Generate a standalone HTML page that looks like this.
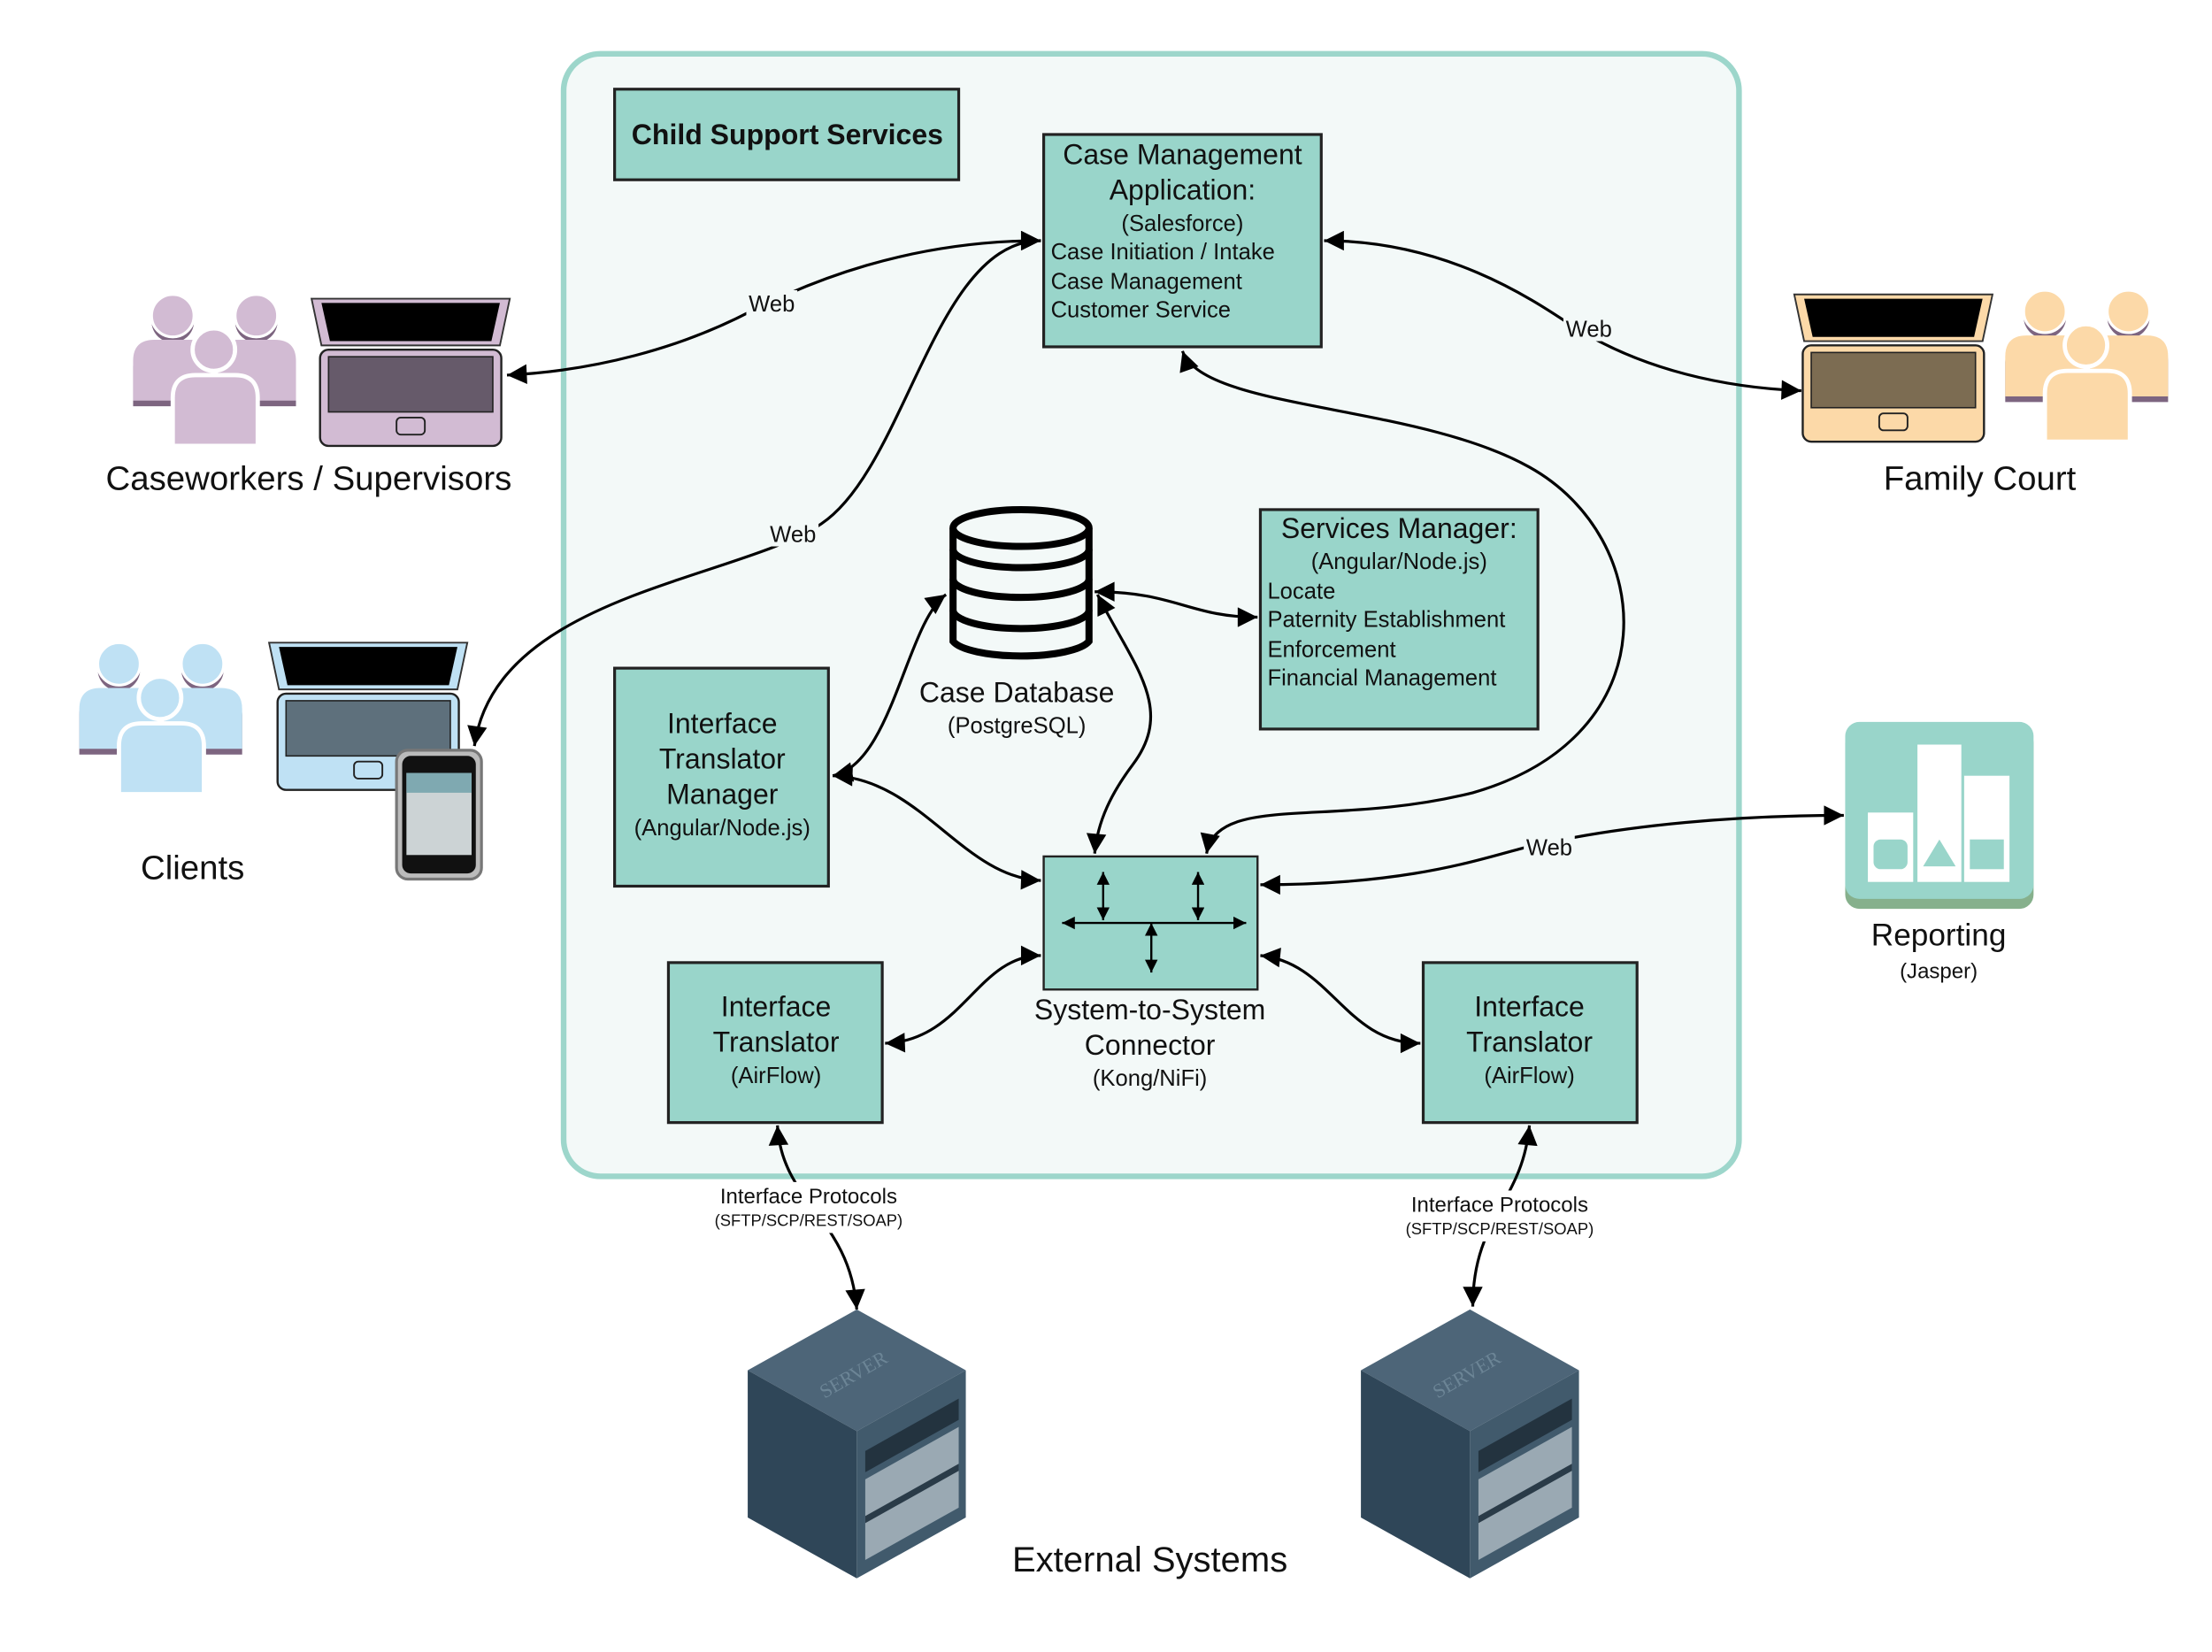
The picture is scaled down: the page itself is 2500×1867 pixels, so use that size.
<!DOCTYPE html>
<html><head><meta charset="utf-8"><style>html,body{margin:0;padding:0;background:#fff}svg{display:block}text{font-family:"Liberation Sans",sans-serif;fill:#111}</style></head>
<body>
<svg width="2500" height="1867" viewBox="0 0 1562 1167" preserveAspectRatio="none" xmlns="http://www.w3.org/2000/svg">
<defs>
<marker id="a" viewBox="0 0 10 10" refX="10" refY="5" markerWidth="9" markerHeight="9" markerUnits="userSpaceOnUse" orient="auto-start-reverse"><path d="M0,0 L10,5 L0,10 Z" fill="#000"/></marker>
<marker id="b" viewBox="0 0 10 10" refX="10" refY="5" markerWidth="16" markerHeight="14" markerUnits="userSpaceOnUse" orient="auto-start-reverse"><path d="M0,0 L10,5 L0,10 Z" fill="#000"/></marker>
<g id="ppl">
 <g transform="translate(0,4)" class="sh">
  <circle cx="28" cy="16" r="15"/><circle cx="87" cy="16" r="15"/>
  <path d="M0,48 Q0,33 15,33 L42,33 Q55,33 55,48 L55,76 L0,76 Z"/>
  <path d="M60,48 Q60,33 73,33 L100,33 Q115,33 115,48 L115,76 L60,76 Z"/>
 </g>
 <circle cx="28" cy="16" r="15" stroke="#fff" stroke-width="2"/><circle cx="87" cy="16" r="15" stroke="#fff" stroke-width="2"/>
 <path d="M0,48 Q0,33 15,33 L42,33 Q55,33 55,48 L55,76 L0,76 Z"/>
 <path d="M60,48 Q60,33 73,33 L100,33 Q115,33 115,48 L115,76 L60,76 Z"/>
 <circle cx="57" cy="40" r="15" stroke="#fff" stroke-width="3"/>
 <path d="M28,74 Q28,58 44,58 L72,58 Q88,58 88,74 L88,108 L28,108 Z" stroke="#fff" stroke-width="3"/>
</g>
<g id="lap">
 <path d="M0,0 L140,0 L133,33 L7,33 Z" stroke="#333" stroke-width="1.2"/>
 <path d="M7,3 L133,3 L127,30 L13,30 Z" fill="#000"/>
 <rect x="6" y="36" width="128" height="68" rx="6" stroke="#222" stroke-width="1.5"/>
 <rect x="12" y="41" width="116" height="39" fill="var(--s)" stroke="#222" stroke-width="1"/>
 <rect x="60" y="84" width="20" height="12" rx="3" stroke="#222" stroke-width="1.2"/>
</g>
<g id="srv">
 <path d="M0,0 L77,43 L0,86 L-77,43 Z" fill="#4d6578"/>
 <path d="M-77,43 L0,86 L0,190 L-77,147 Z" fill="#2f4658"/>
 <path d="M0,86 L77,43 L77,147 L0,190 Z" fill="#415a6c"/>
 <path d="M6,100 L72,63 L72,78 L6,115 Z" fill="#23333f"/>
 <path d="M6,120 L72,83 L72,140 L6,177 Z" fill="#9aa9b3"/>
 <path d="M6,146 L72,109 L72,114 L6,151 Z" fill="#2a3b48"/>
 <text x="0" y="50" transform="rotate(-30 0 50)" font-size="14" text-anchor="middle" style="fill:#6c8596;font-family:'Liberation Serif',serif">SERVER</text>
</g>
</defs>

<rect x="398" y="38" width="830" height="793" rx="26" fill="#f3f9f8" stroke="#9dd6cb" stroke-width="4"/>

<rect x="434" y="63" width="243" height="64" fill="#99d5ca" stroke="#222" stroke-width="2"/>
<text x="556" y="102" font-size="20" font-weight="bold" text-anchor="middle">Child Support Services</text>

<rect x="737" y="95" width="196" height="150" fill="#99d5ca" stroke="#222" stroke-width="2"/>
<g font-size="20" text-anchor="middle"><text x="835" y="116">Case Management</text><text x="835" y="141">Application:</text></g>
<text x="835" y="163" font-size="16" text-anchor="middle">(Salesforce)</text>
<g font-size="16"><text x="742" y="183">Case Initiation / Intake</text><text x="742" y="204">Case Management</text><text x="742" y="224">Customer Service</text></g>

<rect x="890" y="360" width="196" height="155" fill="#99d5ca" stroke="#222" stroke-width="2"/>
<text x="988" y="380" font-size="20" text-anchor="middle">Services Manager:</text>
<text x="988" y="402" font-size="16" text-anchor="middle">(Angular/Node.js)</text>
<g font-size="16"><text x="895" y="423">Locate</text><text x="895" y="443">Paternity Establishment</text><text x="895" y="464">Enforcement</text><text x="895" y="484">Financial Management</text></g>

<rect x="434" y="472" width="151" height="154" fill="#99d5ca" stroke="#222" stroke-width="2"/>
<g font-size="20" text-anchor="middle"><text x="510" y="518">Interface</text><text x="510" y="543">Translator</text><text x="510" y="568">Manager</text></g>
<text x="510" y="590" font-size="16" text-anchor="middle">(Angular/Node.js)</text>

<rect x="737" y="605" width="151" height="94" fill="#99d5ca" stroke="#222" stroke-width="1.5"/>
<g stroke="#000" stroke-width="1.5" marker-start="url(#a)" marker-end="url(#a)" fill="none">
<path d="M779,616 L779,650"/><path d="M846,616 L846,650"/><path d="M750,652 L880,652"/><path d="M813,652 L813,687"/></g>
<g font-size="20" text-anchor="middle"><text x="812" y="720">System-to-System</text><text x="812" y="745">Connector</text></g>
<text x="812" y="767" font-size="16" text-anchor="middle">(Kong/NiFi)</text>

<rect x="472" y="680" width="151" height="113" fill="#99d5ca" stroke="#222" stroke-width="2"/>
<g font-size="20" text-anchor="middle"><text x="548" y="718">Interface</text><text x="548" y="743">Translator</text></g>
<text x="548" y="765" font-size="16" text-anchor="middle">(AirFlow)</text>
<rect x="1005" y="680" width="151" height="113" fill="#99d5ca" stroke="#222" stroke-width="2"/>
<g font-size="20" text-anchor="middle"><text x="1080" y="718">Interface</text><text x="1080" y="743">Translator</text></g>
<text x="1080" y="765" font-size="16" text-anchor="middle">(AirFlow)</text>

<g fill="#f3f9f8" stroke="#000" stroke-width="5">
<path d="M673,373 L673,453 A49,13 0 0 0 769,453 L769,373"/>
<ellipse cx="721" cy="373" rx="48" ry="13"/>
<path d="M673,388 A48,13 0 0 0 769,388" fill="none"/>
<path d="M673,409 A48,13 0 0 0 769,409" fill="none"/>
<path d="M673,431 A48,13 0 0 0 769,431" fill="none"/>
</g>
<text x="718" y="496" font-size="20" text-anchor="middle">Case Database</text>
<text x="718" y="518" font-size="16" text-anchor="middle">(PostgreSQL)</text>

<rect x="1303" y="515" width="133" height="127" rx="10" fill="#86b08c"/>
<rect x="1303" y="510" width="133" height="125" rx="10" fill="#99d5ca"/>
<rect x="1319" y="574" width="32" height="49" fill="#fff"/><rect x="1323" y="593" width="24" height="21" rx="5" fill="#99d5ca"/>
<rect x="1354" y="526" width="31" height="97" fill="#fff"/><path d="M1358,612 L1369.5,593 L1381,612 Z" fill="#99d5ca"/>
<rect x="1387" y="548" width="32" height="75" fill="#fff"/><rect x="1391" y="593" width="24" height="21" fill="#99d5ca"/>
<text x="1369" y="668" font-size="22" text-anchor="middle">Reporting</text>
<text x="1369" y="691" font-size="15" text-anchor="middle">(Jasper)</text>

<style>.sh{fill:#7d6580}</style>
<use href="#ppl" x="94" y="207" fill="#d2bbd3"/>
<use href="#ppl" x="56" y="453" fill="#bfe1f4"/>
<use href="#ppl" x="1416" y="204" fill="#fcd9a8"/>
<use href="#lap" x="220" y="211" fill="#d2bbd3" style="--s:#665a6a"/>
<use href="#lap" x="190" y="454" fill="#bfe1f4" style="--s:#5e707c"/>
<use href="#lap" x="1267" y="208" fill="#fcd9a8" style="--s:#7c6c52"/>
<rect x="280" y="530" width="60" height="91" rx="8" fill="#bbb" stroke="#777" stroke-width="2"/>
<rect x="284" y="534" width="52" height="83" rx="6" fill="#111"/>
<rect x="287" y="546" width="46" height="58" fill="#ccd3d5"/>
<rect x="287" y="546" width="46" height="14" fill="#7fa9b1"/>

<text x="218" y="346" font-size="24" text-anchor="middle">Caseworkers / Supervisors</text>
<text x="1398" y="346" font-size="24" text-anchor="middle">Family Court</text>
<text x="136" y="621" font-size="24" text-anchor="middle">Clients</text>

<use href="#srv" x="605" y="925"/>
<use href="#srv" x="1038" y="925"/>
<text x="812" y="1110" font-size="25" text-anchor="middle">External Systems</text>

<g fill="none" stroke="#000" stroke-width="2" marker-start="url(#b)" marker-end="url(#b)">
<path d="M735,170 C640,170 570,200 530,220 C480,246 420,262 358,265"/>
<path d="M735,170 C660,170 640,330 580,370 C520,410 350,420 335,527"/>
<path d="M935,170 C1020,170 1080,210 1110,230 C1160,262 1220,274 1272,276"/>
<path d="M835,248 C850,290 1000,285 1080,330 C1170,380 1180,520 1040,560 C940,585 860,560 852,603"/>
<path d="M773,418 C830,418 840,436 888,436"/>
<path d="M668,420 C640,440 630,540 588,548"/>
<path d="M775,420 C800,470 830,500 800,540 C785,560 775,580 773,603"/>
<path d="M588,548 C650,550 680,620 735,622"/>
<path d="M625,737 C680,735 690,675 735,675"/>
<path d="M890,675 C940,680 950,737 1003,737"/>
<path d="M890,625 C1000,625 1050,605 1080,598 C1150,582 1230,576 1302,576"/>
<path d="M549,795 C552,850 600,860 605,925"/>
<path d="M1080,795 C1075,850 1040,860 1040,923"/>
</g>
<g font-size="16" text-anchor="middle">
<rect x="527" y="205" width="36" height="18" fill="#f3f9f8"/><text x="545" y="220">Web</text>
<rect x="542" y="368" width="36" height="18" fill="#f3f9f8"/><text x="560" y="383">Web</text>
<rect x="1104" y="223" width="36" height="18" fill="#f3f9f8"/><text x="1122" y="238">Web</text>
<rect x="1076" y="589" width="36" height="18" fill="#f3f9f8"/><text x="1094" y="604">Web</text>
</g>
<rect x="497" y="835" width="150" height="36" fill="#fff"/>
<text x="571" y="850" font-size="15" text-anchor="middle">Interface Protocols</text>
<text x="571" y="866" font-size="11.5" text-anchor="middle">(SFTP/SCP/REST/SOAP)</text>
<rect x="985" y="841" width="150" height="36" fill="#fff"/>
<text x="1059" y="856" font-size="15" text-anchor="middle">Interface Protocols</text>
<text x="1059" y="872" font-size="11.5" text-anchor="middle">(SFTP/SCP/REST/SOAP)</text>
</svg>
</body></html>
